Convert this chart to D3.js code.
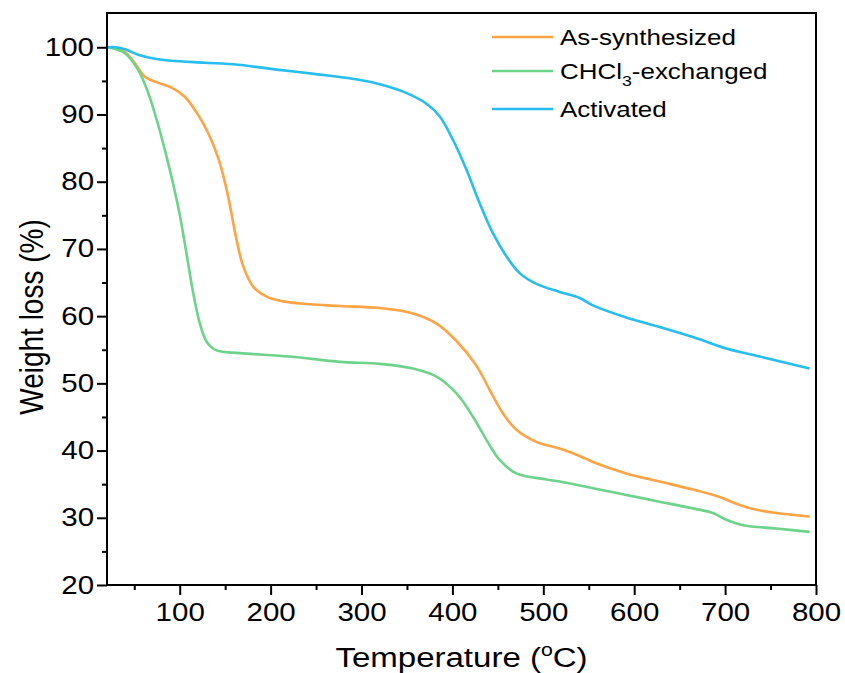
<!DOCTYPE html>
<html><head><meta charset="utf-8">
<script src="https://cdn.jsdelivr.net/npm/d3@7"></script>
<style>body{margin:0;background:#fff}svg{display:block}text{font-family:Arial,"Liberation Sans",sans-serif;fill:#000}</style>
</head><body>
<svg id="c" width="845" height="673"></svg>
<script>
const seriesNames = ["As-synthesized", "CHCl3-exchanged", "Activated"];
const seriesColors = ["#FFA345", "#6ED38A", "#26BDEF"];
const asSynthesized = [
 [20,100],[30,99.8],[39.8,99.3],[50.8,97.6],[61.8,95.6],[76.4,94.7],[91,94.0],[105.8,92.6],[120.4,89.9],[131.4,87.2],[142.4,83.5],[150.5,79.5],[155.2,76.5],[162.6,71.3],[169.9,67.4],[180.8,64.4],[195.6,62.9],[213.9,62.2],[239.5,61.8],[276.2,61.5],[320,61.2],[356.7,60.4],[382.5,58.9],[404.5,56.3],[426.5,52.6],[441.1,49.0],[455.7,45.5],[470.4,43.1],[492.4,41.3],[518,40.3],[540,39.2],[554.6,38.3],[591.3,36.6],[628,35.4],[664.6,34.2],[694,33.1],[712.3,32.1],[730.6,31.3],[756.3,30.7],[793,30.2]
];
const chcl3Exchanged = [
 [20,100],[30,99.7],[39.8,99.1],[54.4,96.6],[65.4,93.2],[76.4,88.4],[85.6,83.7],[92.9,79.6],[100.3,74.9],[107.6,69.2],[114.9,63.4],[122.2,58.9],[129.6,56.2],[140.6,54.9],[166.2,54.5],[221.2,54.0],[276.2,53.2],[320,52.9],[356.7,52.2],[382.5,51.0],[404.5,48.5],[422.8,45.0],[437.4,41.6],[452,38.6],[470.4,36.6],[503.4,35.7],[518,35.4],[554.6,34.4],[591.3,33.4],[628,32.4],[664.6,31.4],[686.6,30.7],[701.3,29.7],[719.6,28.9],[756.3,28.4],[793,27.9]
];
const activated = [
 [20,100],[30,100],[40,99.7],[54.4,98.9],[72.8,98.3],[91,98.0],[127.7,97.7],[164,97.4],[212,96.6],[250,96.0],[300,95.1],[320,94.5],[345.8,93.4],[371.5,91.6],[386.1,89.7],[400.7,86.2],[415.4,81.8],[430,76.8],[444.7,72.3],[459.4,68.9],[474,66.4],[492.4,64.8],[518,63.6],[540,62.7],[554.6,61.6],[591.3,59.8],[628,58.4],[664.6,56.9],[701.3,55.2],[738,54.0],[793,52.2]
];
const xTicks = [100,200,300,400,500,600,700,800];
const yTicks = [20,30,40,50,60,70,80,90,100];

const SX = 1.18; // horizontal stretch of the reference text
const svg = d3.select("#c");
const L=107, R=816, T=13, B=585;
const x = d3.scaleLinear().domain([20,800]).range([L,R]);
const y = d3.scaleLinear().domain([20,105.1]).range([B,T]);

// lines
const line = d3.line().x(d=>x(d[0])).y(d=>y(d[1])).curve(d3.curveCatmullRom.alpha(0.5));
[asSynthesized, chcl3Exchanged, activated].forEach((s,i)=>{
  svg.append("path").datum(s).attr("d",line).attr("fill","none")
    .attr("stroke",seriesColors[i]).attr("stroke-width",2.6).attr("stroke-linejoin","round");
});

// x axis
const xMinor = d3.range(50,800,100);
const gx = svg.append("g").attr("transform",`translate(0,${B})`);
gx.call(d3.axisBottom(x).tickValues(xTicks).tickSize(10).tickSizeOuter(0).tickPadding(8));
gx.append("g").call(d3.axisBottom(x).tickValues(xMinor).tickSize(5).tickSizeOuter(0).tickFormat(""));
gx.selectAll(".tick line").attr("stroke","#000").attr("stroke-width",2);
gx.selectAll(".tick text").style("font-size","25px").attr("font-family","Arial, Liberation Sans, sans-serif")
  .attr("transform",`scale(${SX},1)`);

// y axis
const yMinor = d3.range(25,105,10);
const gy = svg.append("g").attr("transform",`translate(${L},0)`);
gy.call(d3.axisLeft(y).tickValues(yTicks).tickSize(10).tickSizeOuter(0).tickPadding(1));
gy.append("g").call(d3.axisLeft(y).tickValues(yMinor).tickSize(5).tickSizeOuter(0).tickFormat(""));
gy.selectAll(".tick line").attr("stroke","#000").attr("stroke-width",2);
gy.selectAll(".tick text").style("font-size","25px").attr("font-family","Arial, Liberation Sans, sans-serif")
  .attr("transform",`scale(${SX},1)`);
svg.selectAll(".domain").remove();
svg.append("rect").attr("x",L).attr("y",T).attr("width",R-L).attr("height",B-T)
  .attr("fill","none").attr("stroke","#000").attr("stroke-width",2);

// axis titles
const xt = svg.append("text").attr("transform",`translate(${(L+R)/2},667) scale(${SX},1)`)
  .attr("text-anchor","middle").style("font-size","28px");
xt.append("tspan").text("Temperature (");
xt.append("tspan").attr("dy",-11).style("font-size","18px").text("o");
xt.append("tspan").attr("dy",11).text("C)");
svg.append("text").attr("transform",`translate(43,${(T+B)/2+18}) rotate(-90) scale(1,${SX})`).attr("text-anchor","middle")
  .style("font-size","28px").text("Weight loss (%)");

// legend
const legY = [37,71,109];
seriesNames.forEach((n,i)=>{
  svg.append("line").attr("x1",492).attr("x2",553).attr("y1",legY[i]).attr("y2",legY[i])
    .attr("stroke",seriesColors[i]).attr("stroke-width",2.6);
  const t = svg.append("text").attr("transform",`translate(560,${legY[i]+8}) scale(${SX},1)`).style("font-size","22px");
  if (n==="CHCl3-exchanged"){
    t.append("tspan").text("CHCl");
    t.append("tspan").attr("dy",7).style("font-size","15px").text("3");
    t.append("tspan").attr("dy",-7).text("-exchanged");
  } else t.text(n);
});
</script>
</body></html>
